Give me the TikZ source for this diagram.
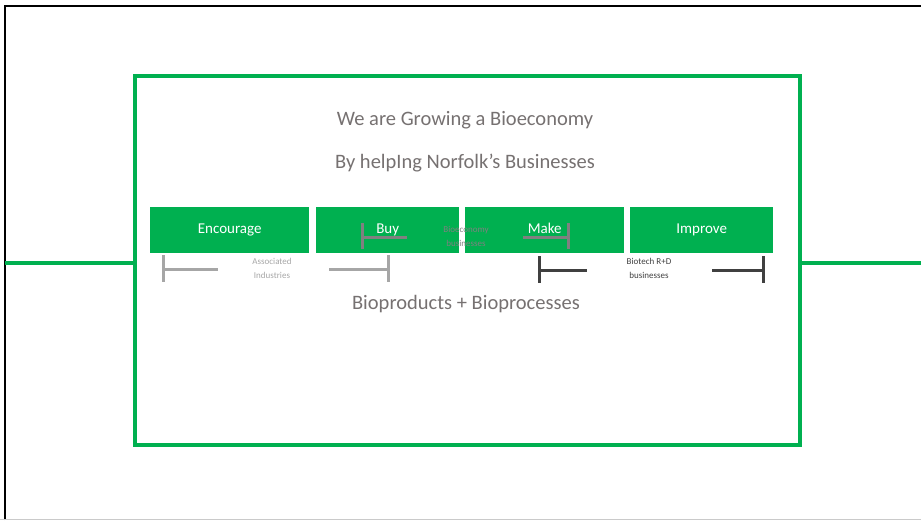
\documentclass[tikz,border=0pt]{standalone}
\usepackage{fontspec}
\setmainfont{Carlito}
\usetikzlibrary{positioning}
\definecolor{bgreen}{RGB}{0,176,80}
\definecolor{tgray}{RGB}{118,113,113}
\definecolor{lgray}{RGB}{166,166,166}
\definecolor{mgray}{RGB}{128,128,128}
\definecolor{dgray}{RGB}{64,64,64}

\begin{document}
\begin{tikzpicture}[x=1pt,y=-1pt,
  stage/.style={fill=bgreen, text=white, font=\fontsize{15}{18}\selectfont, minimum height=46pt, inner sep=0pt, text height=1.6ex, text depth=.4ex, anchor=north west},
  heading/.style={text=tgray, font=\fontsize{20.5}{24}\selectfont},
  tag/.style={font=\fontsize{9}{14}\selectfont, align=center},
  bracket/.style={line width=3pt}
  ]
  \useasboundingbox (0,0) rectangle (921,520);
  % page frame
  \draw[black, line width=2.5pt] (5,520) -- (5,6) -- (921,6);
  \draw[lgray!60, line width=1pt] (0,519.5) -- (921,519.5);
  % outer green frame and axis line
  \coordinate (axl) at (5,263);
  \coordinate (axr) at (921,263);
  \draw[bgreen, line width=4pt] (134.5,76) rectangle (799.5,445);
  \draw[bgreen, line width=4pt] (axl) -- (134.5,263) (799.5,263) -- (axr);
  % headings
  \node[heading] (title) at (465,120) {We are Growing a Bioeconomy};
  \node[heading] (sub) at (465,163) {By helpIng Norfolk’s Businesses};
  \node[heading] (prod) at (466,304) {Bioproducts + Bioprocesses};
  % stages
  \node[stage, minimum width=159pt] (enc) at (150,207) {Encourage};
  \node[stage, minimum width=143pt] (buy) at (316,207) {Buy};
  \node[stage, minimum width=159pt] (make) at (465,207) {Make};
  \node[stage, minimum width=143pt] (imp) at (630,207) {Improve};
  % associated industries
  \node[tag, text=lgray] (assoc) at (272,268) {Associated\\Industries};
  \coordinate (a1) at (163,255); \coordinate (a2) at (218,269);
  \coordinate (a3) at (329,269); \coordinate (a4) at (388,255);
  \draw[bracket, lgray] (a1) -- ++(0,27) (a1 |- a2) -- (a2);
  \draw[bracket, lgray] (a4) -- ++(0,27) (a4 |- a3) -- (a3);
  % bioeconomy businesses
  \node[tag, text=mgray] (bioec) at (466,236) {Bioeconomy\\businesses};
  \coordinate (b1) at (362,223); \coordinate (b2) at (407,237);
  \coordinate (b3) at (523,237); \coordinate (b4) at (568,223);
  \draw[bracket, mgray] (b1) -- ++(0,26) (b1 |- b2) -- (b2);
  \draw[bracket, mgray] (b4) -- ++(0,26) (b4 |- b3) -- (b3);
  % biotech r+d
  \node[tag, text=dgray] (biotech) at (649,268) {Biotech R+D\\businesses};
  \coordinate (c1) at (539,256); \coordinate (c2) at (587,270);
  \coordinate (c3) at (712,270); \coordinate (c4) at (763,256);
  \draw[bracket, dgray] (c1) -- ++(0,27) (c1 |- c2) -- (c2);
  \draw[bracket, dgray] (c4) -- ++(0,27) (c4 |- c3) -- (c3);
\end{tikzpicture}
\end{document}
